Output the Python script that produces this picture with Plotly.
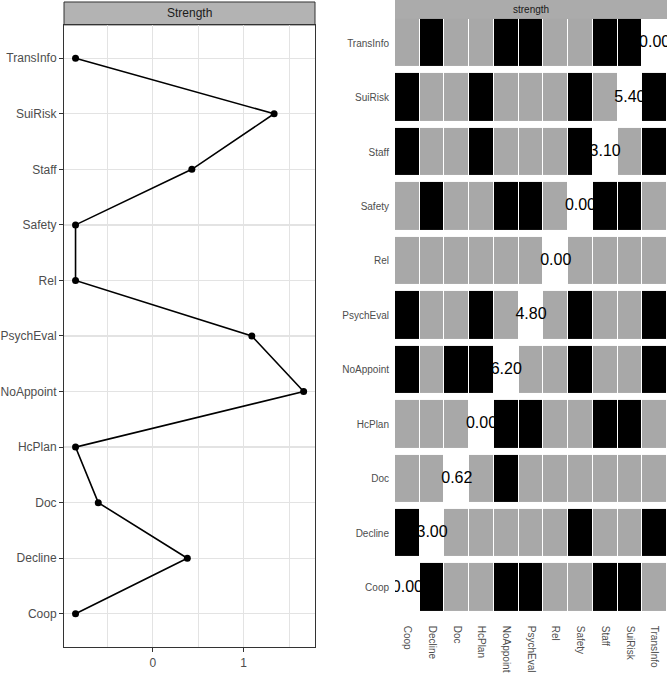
import plotly.graph_objects as go

# ---- data ----
nodes = ["Coop", "Decline", "Doc", "HcPlan", "NoAppoint", "PsychEval",
         "Rel", "Safety", "Staff", "SuiRisk", "TransInfo"]
strength_z = [-0.85, 0.38, -0.60, -0.85, 1.66, 1.09, -0.85, -0.85, 0.43, 1.335, -0.85]
raw_strength = ["0.00", "3.00", "0.62", "0.00", "6.20", "4.80",
                "0.00", "0.00", "3.10", "5.40", "0.00"]
# 1 = significant difference (black), 0 = not (grey), None = diagonal
sig = [
    [None, 1, 0, 0, 1, 1, 0, 0, 1, 1, 0],   # Coop
    [1, None, 0, 0, 0, 0, 0, 1, 0, 0, 1],   # Decline
    [0, 0, None, 0, 1, 0, 0, 0, 0, 0, 0],   # Doc
    [0, 0, 0, None, 1, 1, 0, 0, 1, 1, 0],   # HcPlan
    [1, 0, 1, 1, None, 0, 0, 1, 0, 0, 1],   # NoAppoint
    [1, 0, 0, 1, 0, None, 0, 1, 0, 0, 1],   # PsychEval
    [0, 0, 0, 0, 0, 0, None, 0, 0, 0, 0],   # Rel
    [0, 1, 0, 0, 1, 1, 0, None, 1, 1, 0],   # Safety
    [1, 0, 0, 1, 0, 0, 0, 1, None, 0, 1],   # Staff
    [1, 0, 0, 1, 0, 0, 0, 1, 0, None, 1],   # SuiRisk
    [0, 1, 0, 0, 1, 1, 0, 0, 1, 1, None],   # TransInfo
]
left_strip = "Strength"
right_strip = "strength"
x_ticks_left = [0, 1]

W, H = 667, 673
FONT = "Liberation Sans, Arial, Helvetica, sans-serif"
idx = list(range(len(nodes)))

fig = go.Figure()

# ---- left panel ----
fig.add_trace(go.Scatter(
    x=strength_z, y=idx, mode="lines+markers",
    line=dict(color="black", width=1.6),
    marker=dict(color="black", size=7),
    xaxis="x", yaxis="y", showlegend=False, hoverinfo="skip"))

# ---- right panel ----
fig.add_trace(go.Heatmap(
    z=sig, x=idx, y=idx, xaxis="x2", yaxis="y2",
    colorscale=[[0, "#A8A8A8"], [1, "#000000"]], zmin=0, zmax=1,
    showscale=False, xgap=1, ygap=7, hoverinfo="skip"))
fig.add_trace(go.Scatter(
    x=idx, y=idx, mode="text", text=raw_strength,
    textfont=dict(size=16, color="black", family=FONT),
    textposition="middle center", cliponaxis=True,
    xaxis="x2", yaxis="y2", showlegend=False, hoverinfo="skip"))

def px_x(p):
    return p / W

def px_y(p):
    return 1 - p / H

fig.update_layout(
    width=W, height=H, autosize=False,
    margin=dict(l=0, r=0, t=0, b=0),
    paper_bgcolor="white", plot_bgcolor="white",
    font=dict(family=FONT, color="#4D4D4D"),
    xaxis=dict(domain=[px_x(64), px_x(315)], range=[-0.977, 1.785],
               tickvals=x_ticks_left, ticktext=[str(v) for v in x_ticks_left],
               showgrid=True, gridcolor="#E3E3E3", gridwidth=1.3,
               minor=dict(tickvals=[-0.5, 0.5, 1.5], showgrid=True,
                          gridcolor="#E3E3E3", gridwidth=1.0),
               zeroline=False, showline=True, mirror=True,
               linecolor="#333333", linewidth=1,
               ticks="outside", ticklen=4, tickcolor="#333333",
               tickfont=dict(size=12, color="#4D4D4D"),
               anchor="y"),
    yaxis=dict(domain=[px_y(650), px_y(25)], range=[-0.6, 10.6],
               tickvals=idx, ticktext=nodes,
               showgrid=True, gridcolor="#E3E3E3", gridwidth=1.3,
               zeroline=False, showline=True, mirror=True,
               linecolor="#333333", linewidth=1,
               ticks="outside", ticklen=4, tickcolor="#333333",
               tickfont=dict(size=12, color="#4D4D4D"),
               anchor="x"),
    xaxis2=dict(domain=[px_x(395), 1.0], range=[-0.5, 10.5],
                tickvals=idx, ticktext=nodes, tickangle=90,
                showgrid=False, zeroline=False, showline=False,
                ticks="", ticklabelstandoff=10,
                tickfont=dict(size=10, color="#4D4D4D"),
                anchor="y2"),
    yaxis2=dict(domain=[px_y(617.5), px_y(16)], range=[-0.5, 10.5],
                tickvals=idx, ticktext=nodes,
                showgrid=False, zeroline=False, showline=False,
                ticks="", ticklabelstandoff=5,
                tickfont=dict(size=10, color="#4D4D4D"),
                anchor="x2"),
    shapes=[
        dict(type="rect", xref="paper", yref="paper",
             x0=px_x(64), x1=px_x(315), y0=px_y(25), y1=px_y(2),
             fillcolor="#B3B3B3", line=dict(color="#333333", width=1),
             layer="below"),
        dict(type="rect", xref="paper", yref="paper",
             x0=px_x(395), x1=1.0, y0=px_y(19), y1=px_y(0),
             fillcolor="#ABABAB", line=dict(width=0), layer="below"),
    ],
    annotations=[
        dict(text=left_strip, xref="paper", yref="paper",
             x=px_x((64 + 315) / 2), y=px_y(13.5), showarrow=False,
             xanchor="center", yanchor="middle",
             font=dict(size=12, color="#1A1A1A", family=FONT)),
        dict(text=right_strip, xref="paper", yref="paper",
             x=px_x((395 + 667) / 2), y=px_y(9.5), showarrow=False,
             xanchor="center", yanchor="middle",
             font=dict(size=10, color="#1A1A1A", family=FONT)),
    ],
)

fig.write_html("out.html",
               config={"displayModeBar": False, "staticPlot": True},
               post_script="document.body.style.margin='0px';"
                           "document.body.style.overflow='hidden';")
